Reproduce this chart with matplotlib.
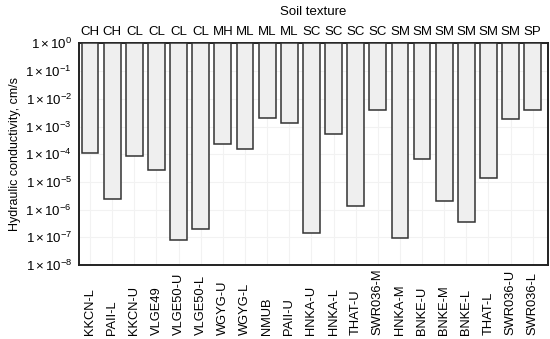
import matplotlib
matplotlib.use("Agg")
import matplotlib.pyplot as plt
import matplotlib.transforms as mtransforms
import numpy as np

plt.rcParams['font.family'] = ['Liberation Sans', 'DejaVu Sans']
plt.rcParams['mathtext.fontset'] = 'custom'
plt.rcParams['mathtext.rm'] = 'Liberation Sans'
plt.rcParams['mathtext.it'] = 'Liberation Sans:italic'

sites = ["KKCN-L", "PAII-L", "KKCN-U", "VLGE49", "VLGE50-U", "VLGE50-L", "WGYG-U",
         "WGYG-L", "NMUB", "PAII-U", "HNKA-U", "HNKA-L", "THAT-U", "SWR036-M",
         "HNKA-M", "BNKE-U", "BNKE-M", "BNKE-L", "THAT-L", "SWR036-U", "SWR036-L"]
textures = ["CH", "CH", "CL", "CL", "CL", "CL", "MH", "ML", "ML", "ML", "SC", "SC",
            "SC", "SC", "SM", "SM", "SM", "SM", "SM", "SM", "SP"]
k_values = [1.15e-4, 2.4e-6, 8.5e-5, 2.8e-5, 8e-8, 2e-7, 2.4e-4, 1.5e-4, 2e-3,
            1.3e-3, 1.4e-7, 5.6e-4, 1.4e-6, 3.9e-3, 9.3e-8, 7e-5, 2.1e-6, 3.5e-7,
            1.4e-5, 1.8e-3, 3.8e-3]

fig = plt.figure(figsize=(5.5, 3.39), dpi=100)
ax = fig.add_axes([0.1436, 0.218, 0.8524, 0.654])

x = np.arange(len(sites))
vals = np.array(k_values)
ax.bar(x, 1 - vals, bottom=vals, width=0.76, color='#efefef',
       edgecolor='#333333', linewidth=1.1, zorder=3)

ax.set_yscale('log')
ax.set_ylim(1e-8, 1)
ax.set_xlim(-0.5, len(sites) - 0.32)

yt = [10.0 ** e for e in range(0, -9, -1)]
ax.set_yticks(yt)
ax.set_yticklabels([r'$1\times10^{%d}$' % e for e in range(0, -9, -1)], fontsize=9.5)
ax.minorticks_off()
ax.set_xticks(x)
ax.set_xticklabels([])
ax.tick_params(length=0, pad=5)
ax.set_ylabel('Hydraulic conductivity, cm/s', fontsize=9, labelpad=3)

# bottom labels aligned at their lower end
trans = mtransforms.blended_transform_factory(ax.transData, fig.transFigure)
for xi, name in zip(x, sites):
    ax.text(xi, 0.012, name, transform=trans, rotation=90, ha='center',
            va='bottom', fontsize=9.3)

ax.grid(True, color='#f2f2f2', linewidth=0.8, zorder=0)
for s in ax.spines.values():
    s.set_linewidth(1.4)
    s.set_color('#222222')

top = ax.secondary_xaxis('top')
top.set_xticks(x)
top.set_xticklabels(textures, fontsize=9.5)
top.tick_params(length=0, pad=4)
top.set_xlabel('Soil texture', fontsize=9.5, labelpad=8)
top.spines['top'].set_visible(False)

fig.savefig('out.png', dpi=100)
